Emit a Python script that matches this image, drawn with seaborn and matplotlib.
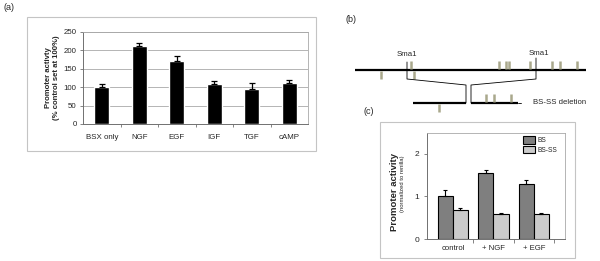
"""
Composite figure: BSX promoter activity (a), Sma1 deletion map (b),
BS vs BS-SS activity (c)
"""

import numpy as np
import pandas as pd
import matplotlib
matplotlib.use("Agg")
import matplotlib.pyplot as plt
from matplotlib.patches import Rectangle
import seaborn as sns

# Panel (a) data
conditions_a = ["BSX only", "NGF", "EGF", "IGF", "TGF", "cAMP"]
activity_a = [100, 211, 171, 108, 95, 112]
error_a = [9, 8, 13, 8, 16, 7]

# Panel (c) data
conditions_c = ["control", "+ NGF", "+ EGF"]
constructs = ["BS", "BS-SS"]
activity_bs = [1.0, 1.54, 1.29]
error_bs = [0.14, 0.07, 0.09]
activity_bsss = [0.69, 0.59, 0.59]
error_bsss = [0.03, 0.03, 0.03]

# Panel (b) map, positions along the promoter fragment (map units)
fragment_length = 231
sma1_sites = [52, 181]
sites_up = [56, 144, 151, 154, 175, 197, 205, 222]
sites_down = [26, 59]
deleted_left = [58, 111]
deleted_right = [116, 163]
deleted_sites_up = [131, 139, 156]
deleted_sites_down = [84]

W, H = 600, 261
sns.set_style("white")
plt.rcParams["font.family"] = ["Liberation Sans", "DejaVu Sans"]

fig = plt.figure(figsize=(W / 100, H / 100), dpi=100)


def px_axes(x0, y0, x1, y1):
    """axes from pixel box (top-left origin)"""
    return fig.add_axes([x0 / W, 1 - y1 / H, (x1 - x0) / W, (y1 - y0) / H])


def px_box(x0, y0, x1, y1):
    fig.patches.append(
        Rectangle((x0 / W, 1 - y1 / H), (x1 - x0) / W, (y1 - y0) / H,
                  transform=fig.transFigure, fill=False,
                  edgecolor="#c4c4c4", linewidth=0.8)
    )


grid_col = "#a8a8a8"
axis_col = "#707070"
site_col = "#a9a88c"

# ---------- (a) ----------
px_box(27, 17, 316, 151)
ax_a = px_axes(83, 32, 308, 124)
sns.barplot(x=conditions_a, y=activity_a, color="black", width=0.4,
            errorbar=None, ax=ax_a, saturation=1)
ax_a.errorbar(range(len(conditions_a)), activity_a,
              yerr=[np.zeros(len(error_a)), error_a], fmt="none",
              ecolor="black", elinewidth=0.9, capsize=2.5, capthick=0.9)
ax_a.set_xlim(-0.5, len(conditions_a) - 0.5)
ax_a.set_ylim(0, 250)
ax_a.set_yticks(range(0, 251, 50))
ax_a.set_axisbelow(True)
ax_a.yaxis.grid(True, color=grid_col, linewidth=0.6)
ax_a.set_xticks(np.arange(0.5, len(conditions_a) - 0.5), minor=True)
ax_a.tick_params(axis="x", which="major", length=0, labelsize=5.7, pad=7)
ax_a.tick_params(axis="x", which="minor", length=2.5, color=axis_col, width=0.6)
ax_a.tick_params(axis="y", length=2.5, color=axis_col, width=0.6,
                 labelsize=5.7, pad=2)
ax_a.tick_params(left=True, bottom=True, which="both")
for side in ["left", "bottom"]:
    ax_a.spines[side].set_color(axis_col)
    ax_a.spines[side].set_linewidth(0.7)
for side in ["top", "right"]:
    ax_a.spines[side].set_color(grid_col)
    ax_a.spines[side].set_linewidth(0.6)
ax_a.set_ylabel("Promoter activty\n(% control set at 100%)", fontsize=5.6,
                fontweight="bold", linespacing=1.1, labelpad=3)
ax_a.set_xlabel("")

# ---------- (b) ----------
ax_b = px_axes(340, 40, 600, 115)
ax_b.set_xlim(-15, 245)
ax_b.set_ylim(-45, 30)
ax_b.axis("off")
lower = -33
tick_h = 8.5
ax_b.plot([0, fragment_length], [0, 0], color="black", lw=1.6,
          solid_capstyle="butt")
ax_b.vlines(sites_up, 0.8, 0.8 + tick_h, color=site_col, lw=1.8)
ax_b.vlines(sites_down, -0.8 - tick_h, -0.8, color=site_col, lw=1.8)
ax_b.plot(deleted_left, [lower, lower], color="black", lw=1.6,
          solid_capstyle="butt")
ax_b.plot(deleted_right, [lower, lower], color="black", lw=1.6,
          solid_capstyle="butt")
ax_b.plot([deleted_right[1], deleted_right[1] + 3], [lower, lower],
          color="black", lw=0.6)
ax_b.vlines(deleted_sites_up, lower + 0.8, lower + 0.8 + tick_h,
            color=site_col, lw=1.8)
ax_b.vlines(deleted_sites_down, lower - 0.8 - tick_h, lower - 0.8,
            color=site_col, lw=1.8)
# deletion bracket from the two Sma1 sites
ax_b.plot([sma1_sites[0], sma1_sites[0], deleted_left[1], deleted_left[1]],
          [8, -9, -15, lower], color="black", lw=0.6)
ax_b.plot([sma1_sites[1], sma1_sites[1], deleted_right[0], deleted_right[0]],
          [12, -9, -15, lower], color="black", lw=0.6)
ax_b.text(sma1_sites[0], 14, "Sma1", ha="center", va="baseline", fontsize=5.6)
ax_b.text(sma1_sites[1] + 3, 15, "Sma1", ha="center", va="baseline",
          fontsize=5.6)
ax_b.text(178, lower, "BS-SS deletion", ha="left", va="center", fontsize=5.6)

# ---------- (c) ----------
px_box(380, 122, 575, 258)
ax_c = px_axes(427, 133, 565, 239)
df_c = pd.DataFrame({
    "condition": conditions_c * 2,
    "construct": [constructs[0]] * 3 + [constructs[1]] * 3,
    "value": activity_bs + activity_bsss,
})
sns.barplot(data=df_c, x="condition", y="value", hue="construct",
            palette=["#7f7f7f", "#cbcbcb"], edgecolor="black", linewidth=0.8,
            width=0.75, errorbar=None, saturation=1, ax=ax_c)
for cont, vals, errs in zip(ax_c.containers, [activity_bs, activity_bsss],
                            [error_bs, error_bsss]):
    xs = [p.get_x() + p.get_width() / 2 for p in cont.patches]
    ax_c.errorbar(xs, vals, yerr=[np.zeros(len(errs)), errs], fmt="none",
                  ecolor="black", elinewidth=0.8, capsize=1.6, capthick=0.8)
ax_c.set_xlim(-0.64, 2.77)
ax_c.set_ylim(0, 2.48)
ax_c.set_yticks([0, 1, 2])
ax_c.set_xticks(np.arange(0.5, 3), minor=True)
ax_c.tick_params(axis="x", which="major", length=0, labelsize=5.6, pad=4)
ax_c.tick_params(axis="x", which="minor", length=3, color=axis_col, width=0.6)
ax_c.tick_params(axis="y", length=2.5, color=axis_col, width=0.6,
                 labelsize=6, pad=3)
ax_c.tick_params(left=True, bottom=True, which="both")
for side in ["left", "bottom"]:
    ax_c.spines[side].set_color(axis_col)
    ax_c.spines[side].set_linewidth(0.7)
for side in ["top", "right"]:
    ax_c.spines[side].set_color(grid_col)
    ax_c.spines[side].set_linewidth(0.6)
ax_c.set_xlabel("")
ax_c.set_ylabel("")
ax_c.text(-0.235, 0.44, "Promoter activity", transform=ax_c.transAxes,
          rotation=90, ha="center", va="center", fontsize=6.8,
          fontweight="bold")
ax_c.text(-0.175, 0.52, "(normalized to renilla)", transform=ax_c.transAxes,
          rotation=90, ha="center", va="center", fontsize=4.2)
ax_c.legend(loc="upper left", bbox_to_anchor=(0.67, 1.0), frameon=False,
            fontsize=4.8, handlelength=1.8, handleheight=1.4,
            handletextpad=0.4, labelspacing=0.2, borderaxespad=0.3,
            borderpad=0.2)

# panel letters
fig.text(4 / W, 1 - 7 / H, "(a)", fontsize=6.5, va="center", ha="left")
fig.text(345 / W, 1 - 20 / H, "(b)", fontsize=6.5, va="center", ha="left")
fig.text(363 / W, 1 - 111 / H, "(c)", fontsize=6.5, va="center", ha="left")

fig.savefig("out.png", dpi=100)
